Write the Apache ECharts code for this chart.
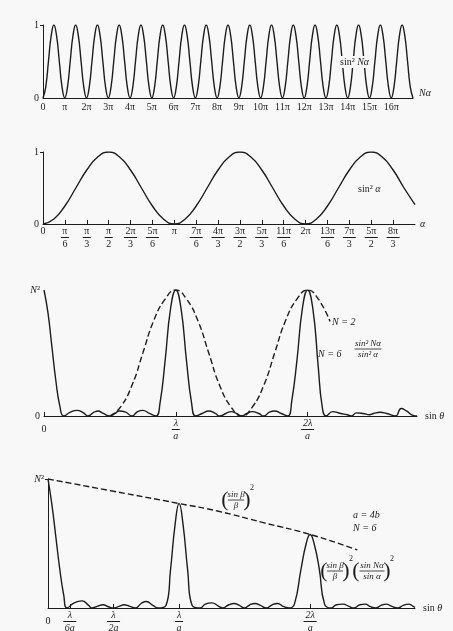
<!DOCTYPE html>
<html>
<head>
<meta charset="utf-8">
<script src="https://cdn.jsdelivr.net/npm/echarts@6/dist/echarts.min.js"></script>
<style>
html, body { margin: 0; padding: 0; background: #f8f8f8; }
#main { width: 453px; height: 631px; }
</style>
</head>
<body>
<div id="main"></div>
<script>
// panel 1 : sin^2 N alpha, one value every eighth of pi
var nAlphaStep = 0.125;
var sinSqNAlpha = [
  0, 0.15, 0.5, 0.85, 1, 0.85, 0.5, 0.15, 0, 0.15, 0.5, 0.85, 1, 0.85, 0.5, 0.15,
  0, 0.15, 0.5, 0.85, 1, 0.85, 0.5, 0.15, 0, 0.15, 0.5, 0.85, 1, 0.85, 0.5, 0.15,
  0, 0.15, 0.5, 0.85, 1, 0.85, 0.5, 0.15, 0, 0.15, 0.5, 0.85, 1, 0.85, 0.5, 0.15,
  0, 0.15, 0.5, 0.85, 1, 0.85, 0.5, 0.15, 0, 0.15, 0.5, 0.85, 1, 0.85, 0.5, 0.15,
  0, 0.15, 0.5, 0.85, 1, 0.85, 0.5, 0.15, 0, 0.15, 0.5, 0.85, 1, 0.85, 0.5, 0.15,
  0, 0.15, 0.5, 0.85, 1, 0.85, 0.5, 0.15, 0, 0.15, 0.5, 0.85, 1, 0.85, 0.5, 0.15,
  0, 0.15, 0.5, 0.85, 1, 0.85, 0.5, 0.15, 0, 0.15, 0.5, 0.85, 1, 0.85, 0.5, 0.15,
  0, 0.15, 0.5, 0.85, 1, 0.85, 0.5, 0.15, 0, 0.15, 0.5, 0.85, 1, 0.85, 0.5, 0.15,
  0, 0.15, 0.5, 0.85, 1, 0.85, 0.5, 0.15,
  0
];
var nAlphaTickVals = [0, 1, 2, 3, 4, 5, 6, 7, 8, 9, 10, 11, 12, 13, 14, 15, 16];
var nAlphaTicks = ['0', 'π', '2π', '3π', '4π', '5π', '6π', '7π', '8π', '9π', '10π', '11π', '12π', '13π', '14π', '15π', '16π'];

// panel 2 : sin^2 alpha, x in units of pi/6, one value every pi/12
var alphaStep = 0.5;
var sinSqAlpha = [
  0, 0.07, 0.25, 0.5, 0.75, 0.93, 1, 0.93, 0.75, 0.5, 0.25, 0.07,
  0, 0.07, 0.25, 0.5, 0.75, 0.93, 1, 0.93, 0.75, 0.5, 0.25, 0.07,
  0, 0.07, 0.25, 0.5, 0.75, 0.93, 1, 0.93, 0.75, 0.5, 0.27
];
var alphaTickVals = [0, 1, 2, 3, 4, 5, 6, 7, 8, 9, 10, 11, 12, 13, 14, 15, 16];
var alphaTicks = ['0', 'π/6', 'π/3', 'π/2', '2π/3', '5π/6', 'π', '7π/6', '4π/3', '3π/2', '5π/3', '11π/6', '2π', '13π/6', '7π/3', '5π/2', '8π/3'];

// panel 3 : grating, sin theta in units of lambda/a
var gratingTickVals = [0, 1, 2];
var gratingTicks = ['0', 'λ/a', '2λ/a'];
var gratingN6 = [
  [0, 1], [0.03, 0.82], [0.06, 0.55], [0.09, 0.28], [0.12, 0.08], [0.15, 0],
  [0.2, 0.03], [0.25, 0.045], [0.3, 0.025], [0.333, 0],
  [0.38, 0.03], [0.41, 0.04], [0.45, 0.02], [0.5, 0],
  [0.54, 0.02], [0.57, 0.04], [0.62, 0.03], [0.667, 0],
  [0.71, 0.035], [0.75, 0.045], [0.8, 0.02], [0.85, 0],
  [0.88, 0.1], [0.92, 0.45], [0.96, 0.85], [1, 1], [1.04, 0.85], [1.08, 0.45], [1.12, 0.1], [1.15, 0],
  [1.2, 0.02], [1.25, 0.04], [1.3, 0.02], [1.333, 0],
  [1.38, 0.02], [1.42, 0.035], [1.46, 0.02], [1.5, 0],
  [1.54, 0.02], [1.58, 0.035], [1.63, 0.02], [1.667, 0],
  [1.71, 0.03], [1.75, 0.04], [1.8, 0.02], [1.85, 0],
  [1.88, 0.12], [1.92, 0.45], [1.96, 0.85], [2, 1], [2.04, 0.85], [2.08, 0.4], [2.11, 0.08], [2.14, 0],
  [2.19, 0.035], [2.25, 0.02], [2.3, 0.01], [2.333, 0],
  [2.37, 0.025], [2.42, 0.02], [2.47, 0.01], [2.5, 0.02],
  [2.55, 0.03], [2.6, 0.02], [2.667, 0],
  [2.71, 0.06], [2.75, 0.04], [2.8, 0.005], [2.83, 0]
];
var gratingN2 = [
  [0.5, 0], [0.58, 0.07], [0.67, 0.25], [0.75, 0.5], [0.83, 0.75], [0.92, 0.93], [1, 1],
  [1.08, 0.93], [1.17, 0.75], [1.25, 0.5], [1.33, 0.25], [1.42, 0.07], [1.5, 0],
  [1.58, 0.07], [1.67, 0.25], [1.75, 0.5], [1.83, 0.75], [1.92, 0.93], [2, 1],
  [2.08, 0.93], [2.17, 0.75]
];

// panel 4 : grating with slit width envelope
var slitTickVals = [0, 1 / 6, 0.5, 1, 2];
var slitTicks = ['0', 'λ/6a', 'λ/2a', 'λ/a', '2λ/a'];
var slitN6 = [
  [0, 1], [0.03, 0.8], [0.06, 0.55], [0.09, 0.3], [0.12, 0.1], [0.145, 0],
  [0.2, 0.04], [0.26, 0.055], [0.31, 0.02], [0.333, 0],
  [0.38, 0.015], [0.42, 0.025], [0.46, 0.01], [0.5, 0],
  [0.54, 0.012], [0.58, 0.025], [0.62, 0.015], [0.667, 0],
  [0.71, 0.035], [0.75, 0.05], [0.8, 0.02], [0.84, 0],
  [0.9, 0.02], [0.935, 0.3], [0.97, 0.65], [1, 0.81], [1.03, 0.65], [1.065, 0.3], [1.1, 0.02], [1.16, 0],
  [1.2, 0.03], [1.25, 0.04], [1.3, 0.015], [1.333, 0],
  [1.38, 0.025], [1.42, 0.035], [1.46, 0.02], [1.5, 0],
  [1.54, 0.025], [1.58, 0.035], [1.62, 0.02], [1.667, 0],
  [1.71, 0.025], [1.75, 0.035], [1.8, 0.01], [1.84, 0],
  [1.88, 0.03], [1.93, 0.3], [1.97, 0.5], [2, 0.57], [2.03, 0.5], [2.07, 0.3], [2.11, 0.03], [2.16, 0],
  [2.2, 0.025], [2.25, 0.03], [2.3, 0.01], [2.333, 0],
  [2.38, 0.025], [2.42, 0.03], [2.46, 0.01], [2.5, 0],
  [2.54, 0.02], [2.58, 0.03], [2.62, 0.015], [2.667, 0],
  [2.71, 0.02], [2.75, 0.03], [2.79, 0.01], [2.8, 0.005]
];
var slitEnvelope = [[0, 1], [0.5, 0.905], [1, 0.81], [1.3, 0.75], [1.65, 0.66], [2, 0.57], [2.36, 0.45]];

var FONT = 'Liberation Serif, DejaVu Serif, serif';
var INK = '#1c1c1c';

var myChart = echarts.init(document.getElementById('main'));

function pickLabel(vals, labels) {
  return function (v) {
    for (var i = 0; i < vals.length; i++) {
      if (Math.abs(vals[i] - v) < 1e-6) return labels[i];
    }
    return '';
  };
}

function fracLabel(vals, labels) {
  var pick = pickLabel(vals, labels);
  return function (v) {
    var s = pick(v);
    var p = s.split('/');
    if (p.length < 2) return '{z|' + s + '}';
    var bar = Math.max(p[0].length, p[1].length) > 1 ? 'bw' : 'b';
    return '{n|' + p[0] + '}\n{' + bar + '|}\n{d|' + p[1] + '}';
  };
}

function fracRich(italic, zLine) {
  var st = italic ? 'italic' : 'normal';
  return {
    n: { fontSize: 10, lineHeight: 10, fontFamily: FONT, fontStyle: st, color: INK, align: 'center' },
    b: { width: 8, height: 1, lineHeight: 3, backgroundColor: INK, align: 'center' },
    bw: { width: 13, height: 1, lineHeight: 3, backgroundColor: INK, align: 'center' },
    d: { fontSize: 10, lineHeight: 10, fontFamily: FONT, fontStyle: st, color: INK, align: 'center' },
    z: { fontSize: 10, lineHeight: zLine, fontFamily: FONT, color: INK, align: 'center' }
  };
}

function xAx(idx, max, opts) {
  return {
    type: 'value', gridIndex: idx, min: 0, max: max,
    axisLine: { show: true, onZero: false, lineStyle: { color: INK, width: 1 } },
    axisTick: { show: opts.tick, inside: true, length: 4, customValues: opts.vals, lineStyle: { color: INK } },
    axisLabel: { customValues: opts.vals, formatter: opts.formatter, margin: opts.margin,
      fontFamily: FONT, fontSize: 10, color: INK, rich: opts.rich },
    splitLine: { show: false },
    name: opts.name, nameLocation: 'end', nameGap: opts.nameGap,
    nameTextStyle: { fontFamily: FONT, fontSize: 10, color: INK, verticalAlign: opts.nameAlign || 'middle',
      rich: {
        r: { fontFamily: FONT, fontSize: 10, color: INK },
        i: { fontFamily: FONT, fontSize: 10, fontStyle: 'italic', color: INK }
      } }
  };
}

function yAx(idx, vals, labels, showLine) {
  return {
    type: 'value', gridIndex: idx, min: 0, max: 1,
    axisLine: { show: showLine, lineStyle: { color: INK, width: 1 } },
    axisTick: { show: showLine, length: 3, customValues: [1], lineStyle: { color: INK } },
    axisLabel: { customValues: vals, formatter: pickLabel(vals, labels), margin: 4,
      fontFamily: FONT, fontSize: 10, color: INK,
      rich: { i: { fontFamily: FONT, fontSize: 10, fontStyle: 'italic', color: INK } } },
    splitLine: { show: false }
  };
}

function curve(idx, data, dashed) {
  return {
    type: 'line', xAxisIndex: idx, yAxisIndex: idx, data: data,
    symbol: 'none', smooth: 0.5,
    lineStyle: { color: INK, width: 1.4, type: dashed ? [6, 3] : 'solid' }
  };
}

// graphic helpers for the formulas written on the figure
function txt(x, y, text, size, italic, align, vAlign) {
  return {
    type: 'text', x: x, y: y, z: 10,
    style: {
      text: text, fill: INK,
      font: (italic ? 'italic ' : '') + size + 'px ' + FONT,
      align: align || 'left', textAlign: align || 'left',
      verticalAlign: vAlign || 'middle', textVerticalAlign: vAlign || 'middle'
    }
  };
}
function frac(cx, cy, num, den, w, size) {
  return [
    txt(cx, cy - 1, num, size, true, 'center', 'bottom'),
    { type: 'line', z: 10, shape: { x1: cx - w / 2, y1: cy, x2: cx + w / 2, y2: cy },
      style: { stroke: INK, lineWidth: 0.8 } },
    txt(cx, cy + 1, den, size, true, 'center', 'top')
  ];
}
function paren(x, cy, s) {
  return txt(x, cy, s, 22, false, 'center', 'middle');
}

var texts = [];
// panel 1 label with a paper coloured box behind it
texts.push({
  type: 'text', x: 338, y: 62, z: 10,
  style: {
    text: '{r|sin² }{i|Nα}', fill: INK, verticalAlign: 'middle', textVerticalAlign: 'middle',
    backgroundColor: '#f8f8f8', padding: [1, 2],
    rich: {
      r: { fontFamily: FONT, fontSize: 10, fill: INK },
      i: { fontFamily: FONT, fontSize: 10, fontStyle: 'italic', fill: INK }
    }
  }
});
// panel 2 label
texts.push({
  type: 'text', x: 358, y: 189, z: 10,
  style: {
    text: '{r|sin² }{i|α}', fill: INK, verticalAlign: 'middle', textVerticalAlign: 'middle',
    rich: {
      r: { fontFamily: FONT, fontSize: 10, fill: INK },
      i: { fontFamily: FONT, fontSize: 10, fontStyle: 'italic', fill: INK }
    }
  }
});
// panel 3 labels
texts.push(txt(332, 322, 'N = 2', 10, true));
texts.push(txt(318, 354, 'N = 6', 10, true));
texts = texts.concat(frac(368, 349, 'sin² Nα', 'sin² α', 27, 9));
// panel 4 labels
texts.push(txt(353, 515, 'a = 4b', 10, true));
texts.push(txt(353, 528, 'N = 6', 10, true));
texts.push(paren(225, 500, '('));
texts = texts.concat(frac(236, 500, 'sin β', 'β', 16, 9));
texts.push(paren(247, 500, ')'));
texts.push(txt(250, 488, '2', 8, false));
texts.push(paren(324, 571, '('));
texts = texts.concat(frac(335, 571, 'sin β', 'β', 16, 9));
texts.push(paren(346, 571, ')'));
texts.push(txt(349, 559, '2', 8, false));
texts.push(paren(356, 571, '('));
texts = texts.concat(frac(372, 571, 'sin Nα', 'sin α', 25, 9));
texts.push(paren(387, 571, ')'));
texts.push(txt(390, 559, '2', 8, false));

option = {
    backgroundColor: '#f8f8f8',
    animation: false,
    grid: [
        { left: 43, width: 370, top: 25, height: 73, outerBoundsMode: 'none' },
        { left: 43, width: 372, top: 152, height: 72, outerBoundsMode: 'none' },
        { left: 44, width: 373, top: 290, height: 126, outerBoundsMode: 'none' },
        { left: 48, width: 367, top: 479, height: 129, outerBoundsMode: 'none' }
    ],
    xAxis: [
        xAx(0, 17, { vals: nAlphaTickVals, formatter: pickLabel(nAlphaTickVals, nAlphaTicks), margin: 4,
            tick: false, name: '{i|Nα}', nameGap: 6, nameAlign: 'bottom' }),
        xAx(1, 17, { vals: alphaTickVals, formatter: fracLabel(alphaTickVals, alphaTicks), margin: 2,
            tick: true, rich: fracRich(false, 10), name: '{i|α}', nameGap: 5 }),
        xAx(2, 2.83, { vals: gratingTickVals, formatter: fracLabel(gratingTickVals, gratingTicks), margin: 2,
            tick: true, rich: fracRich(true, 22), name: '{r|sin }{i|θ}', nameGap: 8 }),
        xAx(3, 2.8, { vals: slitTickVals, formatter: fracLabel(slitTickVals, slitTicks), margin: 2,
            tick: true, rich: fracRich(true, 22), name: '{r|sin }{i|θ}', nameGap: 8 })
    ],
    yAxis: [
        yAx(0, [0, 1], ['0', '1'], true),
        yAx(1, [0, 1], ['0', '1'], true),
        yAx(2, [0, 1], ['0', '{i|N}²'], false),
        yAx(3, [1], ['{i|N}²'], true)
    ],
    graphic: { elements: texts },
    series: [
        curve(0, sinSqNAlpha.map(function (v, i) { return [i * nAlphaStep, v]; }), false),
        curve(1, sinSqAlpha.map(function (v, i) { return [i * alphaStep, v]; }), false),
        curve(2, gratingN6, false),
        curve(2, gratingN2, true),
        curve(3, slitN6, false),
        curve(3, slitEnvelope, true)
    ]
};

myChart.setOption(option);
</script>
</body>
</html>
